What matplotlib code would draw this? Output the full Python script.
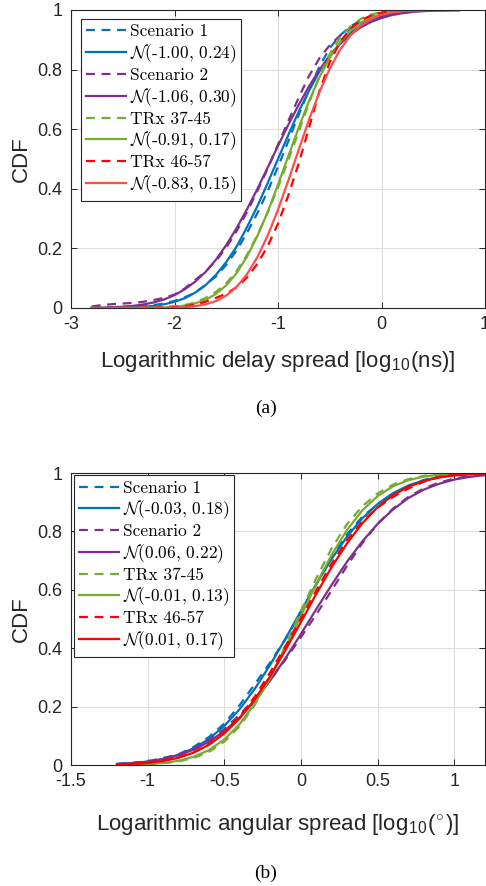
import numpy as np
import matplotlib
matplotlib.use("Agg")
import matplotlib.pyplot as plt

plt.rcParams["font.family"] = ["Liberation Sans", "DejaVu Sans"]
plt.rcParams["mathtext.fontset"] = "cm"
plt.rcParams["axes.unicode_minus"] = False

BLUE = "#0072BD"
PURPLE = "#7E2F8E"
GREEN = "#77AC30"
RED = "#FF0000"
LIGHT_RED = "#FF4D4D"

# ---- (a) logarithmic delay spread ----
delay_x = list(np.round(np.arange(-2.8, 0.71, 0.1), 1)) + [0.75]

delay_s1 = [0.002, 0.002, 0.003, 0.004, 0.005, 0.007, 0.010, 0.015, 0.024, 0.036,
            0.052, 0.078, 0.106, 0.145, 0.193, 0.252, 0.318, 0.392, 0.474, 0.560,
            0.648, 0.733, 0.810, 0.872, 0.915, 0.945, 0.965, 0.978, 0.987, 0.992,
            0.995, 0.997, 0.998, 0.999, 1.0, 1.0, 1.0]
delay_s1_fit = [0.0001, 0.0003, 0.0005, 0.0011, 0.0021, 0.0040, 0.0071, 0.0125, 0.0207, 0.0329,
                0.0516, 0.0764, 0.111, 0.154, 0.206, 0.271, 0.341, 0.419, 0.500, 0.581,
                0.659, 0.729, 0.794, 0.846, 0.889, 0.924, 0.948, 0.967, 0.979, 0.988,
                0.993, 0.996, 0.998, 0.999, 0.9995, 0.9997, 0.9998]
delay_s2 = [0.005, 0.010, 0.013, 0.015, 0.017, 0.021, 0.027, 0.034, 0.045, 0.066,
            0.094, 0.122, 0.158, 0.203, 0.258, 0.322, 0.392, 0.468, 0.548, 0.628,
            0.706, 0.779, 0.838, 0.882, 0.914, 0.938, 0.955, 0.969, 0.979, 0.986,
            0.991, 0.995, 0.997, 0.999, 1.0, 1.0, 1.0]
delay_s2_fit = [0.0007, 0.0014, 0.0025, 0.0043, 0.0072, 0.0119, 0.0188, 0.0287, 0.0432, 0.0630,
                0.0885, 0.121, 0.162, 0.211, 0.268, 0.331, 0.399, 0.471, 0.544, 0.615,
                0.682, 0.744, 0.799, 0.847, 0.886, 0.917, 0.942, 0.960, 0.973, 0.983,
                0.989, 0.9935, 0.996, 0.998, 0.9988, 0.9993, 0.9995]
delay_t37 = [0.0, 0.0, 0.0, 0.0, 0.001, 0.002, 0.003, 0.004, 0.006, 0.010,
             0.019, 0.034, 0.054, 0.083, 0.124, 0.178, 0.244, 0.320, 0.405, 0.497,
             0.592, 0.688, 0.778, 0.852, 0.907, 0.945, 0.970, 0.985, 0.993, 0.997,
             0.999, 1.0, 1.0, 1.0, 1.0, 1.0, 1.0]
delay_t37_fit = [0.0, 0.0, 0.0, 0.0001, 0.0001, 0.0004, 0.0009, 0.0019, 0.0040, 0.0082,
                 0.0154, 0.0274, 0.047, 0.076, 0.117, 0.172, 0.241, 0.322, 0.414, 0.510,
                 0.605, 0.695, 0.774, 0.840, 0.892, 0.931, 0.958, 0.975, 0.986, 0.993,
                 0.9964, 0.9984, 0.9993, 0.9997, 0.9999, 1.0, 1.0]
delay_t46 = [0.0, 0.0, 0.0, 0.0, 0.0, 0.001, 0.001, 0.002, 0.003, 0.006,
             0.011, 0.021, 0.034, 0.048, 0.070, 0.102, 0.148, 0.207, 0.283, 0.378,
             0.485, 0.605, 0.728, 0.825, 0.893, 0.938, 0.965, 0.982, 0.991, 0.996,
             0.998, 1.0, 1.0, 1.0, 1.0, 1.0, 1.0]
delay_t46_fit = [0.0, 0.0, 0.0, 0.0, 0.0, 0.0001, 0.0002, 0.0005, 0.0013, 0.0029,
                 0.0061, 0.0122, 0.0233, 0.0418, 0.0704, 0.113, 0.170, 0.243, 0.330, 0.428,
                 0.531, 0.632, 0.724, 0.803, 0.867, 0.915, 0.948, 0.970, 0.984, 0.9919,
                 0.9961, 0.9982, 0.9993, 0.9997, 0.9999, 1.0, 1.0]
delay_fit_labels = ["(-1.00, 0.24)", "(-1.06, 0.30)", "(-0.91, 0.17)", "(-0.83, 0.15)"]

# ---- (b) logarithmic angular spread ----
angle_x = list(np.round(np.arange(-1.2, 1.21, 0.1), 1))

angle_s1 = [0.004, 0.006, 0.012, 0.024, 0.036, 0.062, 0.096, 0.142, 0.205, 0.278,
            0.352, 0.432, 0.522, 0.618, 0.712, 0.790, 0.850, 0.893, 0.928, 0.956,
            0.976, 0.989, 0.996, 0.999, 1.0]
angle_s1_fit = [0.0029, 0.0059, 0.0110, 0.0202, 0.0347, 0.057, 0.0895, 0.134, 0.191, 0.262,
                0.344, 0.434, 0.528, 0.620, 0.706, 0.782, 0.845, 0.894, 0.931, 0.957,
                0.975, 0.986, 0.9924, 0.9962, 0.9981]
angle_s2 = [0.003, 0.007, 0.013, 0.022, 0.036, 0.056, 0.085, 0.123, 0.172, 0.228,
            0.292, 0.362, 0.438, 0.516, 0.598, 0.682, 0.760, 0.826, 0.878, 0.918,
            0.947, 0.967, 0.981, 0.990, 0.995]
angle_s2_fit = [0.0036, 0.0067, 0.0119, 0.0203, 0.0333, 0.0526, 0.0797, 0.116, 0.163, 0.221,
                0.290, 0.367, 0.449, 0.534, 0.617, 0.696, 0.766, 0.826, 0.875, 0.914,
                0.943, 0.963, 0.9775, 0.9867, 0.9925]
angle_t37 = [0.001, 0.002, 0.003, 0.006, 0.012, 0.024, 0.045, 0.080, 0.133, 0.207,
             0.300, 0.410, 0.527, 0.640, 0.742, 0.825, 0.886, 0.930, 0.960, 0.979,
             0.990, 0.996, 0.999, 1.0, 1.0]
angle_t37_fit = [0.0005, 0.0013, 0.0031, 0.0069, 0.0143, 0.0280, 0.0511, 0.0874, 0.140, 0.211,
                 0.299, 0.402, 0.511, 0.620, 0.720, 0.805, 0.872, 0.921, 0.9545, 0.9754,
                 0.9876, 0.9941, 0.9974, 0.9989, 0.9996]
angle_t46 = [0.002, 0.004, 0.008, 0.015, 0.026, 0.044, 0.072, 0.112, 0.166, 0.235,
             0.318, 0.408, 0.502, 0.598, 0.690, 0.770, 0.834, 0.882, 0.918, 0.947,
             0.970, 0.986, 0.995, 0.999, 1.0]
angle_t46_fit = [0.0017, 0.0035, 0.0071, 0.0136, 0.0246, 0.0424, 0.0693, 0.108, 0.160, 0.226,
                 0.305, 0.395, 0.490, 0.586, 0.678, 0.759, 0.828, 0.883, 0.924, 0.953,
                 0.972, 0.9846, 0.9919, 0.9959, 0.9981]
angle_fit_labels = ["(-0.03, 0.18)", "(0.06, 0.22)", "(-0.01, 0.13)", "(0.01, 0.17)"]

group_labels = ["Scenario 1", "Scenario 2", "TRx 37-45", "TRx 46-57"]


def draw_panel(ax, x, emp, fits, fit_labels, colors, fit_colors):
    for y_emp, y_fit, name, flabel, c, fc in zip(emp, fits, group_labels, fit_labels,
                                                 colors, fit_colors):
        ax.plot(x, y_emp, color=c, lw=1.6, dashes=(4, 3), label=name)
        ax.plot(x, y_fit, color=fc, lw=1.6, label=r"$\mathcal{N}$" + flabel)
    ax.set_ylim(0, 1)
    ax.set_yticks([0, 0.2, 0.4, 0.6, 0.8, 1])
    ax.set_yticklabels(["0", "0.2", "0.4", "0.6", "0.8", "1"])
    ax.grid(True, color="#DEDEDE", lw=0.8)
    ax.set_axisbelow(True)
    ax.tick_params(direction="in", top=True, right=True, length=4, width=0.7,
                   colors="#262626", labelsize=13, pad=6)
    for sp in ax.spines.values():
        sp.set_linewidth(0.8)
        sp.set_color("#262626")
    ax.set_ylabel("CDF", fontsize=16, color="#262626")
    ax.yaxis.set_label_coords(-0.095, 0.5)


fig = plt.figure(figsize=(4.86, 8.86), dpi=100)
ax1 = fig.add_axes([71 / 486, 1 - 308 / 886, 414 / 486, 298 / 886])
ax2 = fig.add_axes([71 / 486, 1 - 765 / 886, 414 / 486, 292 / 886])

draw_panel(ax1, delay_x,
           [delay_s1, delay_s2, delay_t37, delay_t46],
           [delay_s1_fit, delay_s2_fit, delay_t37_fit, delay_t46_fit],
           delay_fit_labels,
           [BLUE, PURPLE, GREEN, RED], [BLUE, PURPLE, GREEN, LIGHT_RED])
ax1.set_xlim(-3, 1)
ax1.set_xticks([-3, -2, -1, 0, 1])
ax1.set_xticklabels(["-3", "-2", "-1", "0", "1"])
ax1.set_xlabel(r"Logarithmic delay spread [log$_{\mathregular{10}}$(ns)]",
               fontsize=16, color="#262626", va="top")
ax1.xaxis.set_label_coords(0.5, -0.138)

draw_panel(ax2, angle_x,
           [angle_s1, angle_s2, angle_t37, angle_t46],
           [angle_s1_fit, angle_s2_fit, angle_t37_fit, angle_t46_fit],
           angle_fit_labels,
           [BLUE, PURPLE, GREEN, RED], [BLUE, PURPLE, GREEN, RED])
ax2.set_xlim(-1.5, 1.2)
ax2.set_xticks([-1.5, -1, -0.5, 0, 0.5, 1])
ax2.set_xticklabels(["-1.5", "-1", "-0.5", "0", "0.5", "1"])
ax2.set_xlabel(r"Logarithmic angular spread [log$_{\mathregular{10}}$($^{\circ}$)]",
               fontsize=16, color="#262626", va="top")
ax2.xaxis.set_label_coords(0.5, -0.16)

legend_kw = dict(loc="upper left", prop={"family": "cmr10", "size": 12.5},
                 handlelength=2.3, handletextpad=0.2, labelspacing=0.16,
                 borderpad=0.3, borderaxespad=0, fancybox=False, framealpha=1,
                 edgecolor="#262626")
leg1 = ax1.legend(bbox_to_anchor=(0.024, 0.970), **legend_kw)
leg2 = ax2.legend(bbox_to_anchor=(0.007, 0.993), **legend_kw)
for leg in (leg1, leg2):
    leg.get_frame().set_linewidth(0.8)

fig.text(266 / 486, 1 - 408 / 886, "(a)", ha="center", va="center",
         family="Liberation Serif", fontsize=14)
fig.text(266 / 486, 1 - 873 / 886, "(b)", ha="center", va="center",
         family="Liberation Serif", fontsize=14)

fig.savefig("out.png", dpi=100)
